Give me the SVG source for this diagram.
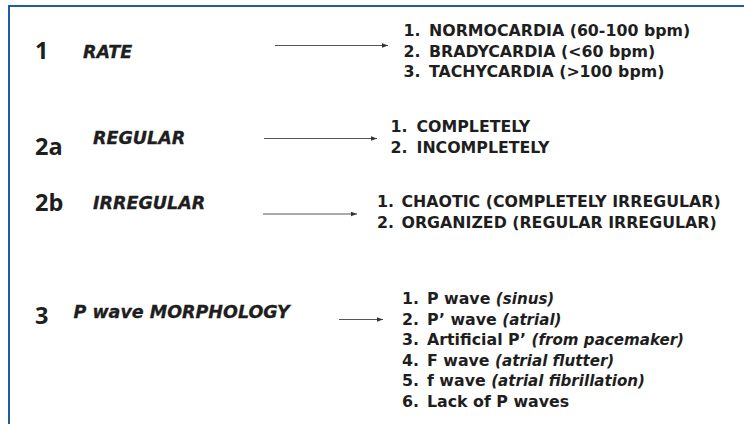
<svg xmlns="http://www.w3.org/2000/svg" width="744" height="424" viewBox="0 0 744 424">
  <defs>
    <marker id="head" viewBox="0 0 6 6" refX="6" refY="3" markerWidth="6" markerHeight="6" markerUnits="userSpaceOnUse" orient="auto">
      <path d="M0,0.8 L6,3 L0,5.2 Z" fill="#333"/>
    </marker>
    <style>
      .num { font-family: "Open Sans", "DejaVu Sans", sans-serif; font-weight: bold; font-size: 23.5px; fill: #1e1e1e; }
      .lbl { font-family: "DejaVu Sans", "Verdana", sans-serif; font-weight: bold; font-style: italic; font-size: 17.5px; fill: #1e1e1e; stroke: #1e1e1e; stroke-width: 0.3px; }
      .item { font-family: "DejaVu Sans", "Verdana", sans-serif; font-weight: bold; font-size: 15.8px; fill: #1e1e1e; }
      .note { font-style: italic; font-size: 15.1px; }
      .arrow { stroke: #555; stroke-width: 1; fill: none; marker-end: url(#head); }
    </style>
  </defs>

  <rect width="744" height="424" fill="#ffffff"/>

  <!-- frame edges: top and left rules -->
  <g id="frame">
    <line x1="8" y1="6" x2="744" y2="6" stroke="#1f5ca8" stroke-width="2"/>
    <line x1="9" y1="5" x2="9" y2="424" stroke="#1f5ca8" stroke-width="2"/>
  </g>

  <!-- category labels -->
  <g id="rate">
    <text class="num" x="35" y="59">1</text>
    <text class="lbl" x="83" y="57.5">RATE</text>
  </g>
  <g id="regular">
    <text class="num" x="35" y="155">2a</text>
    <text class="lbl" x="93" y="143.5">REGULAR</text>
  </g>
  <g id="irregular">
    <text class="num" x="35" y="210.5">2b</text>
    <text class="lbl" x="93" y="209.3">IRREGULAR</text>
  </g>
  <g id="pwave">
    <text class="num" x="35" y="323.5">3</text>
    <text class="lbl" x="73.5" y="317.5">P wave MORPHOLOGY</text>
  </g>

  <!-- connectors -->
  <g id="connectors">
    <line class="arrow" x1="275" y1="45.5" x2="388" y2="45.5"/>
    <line class="arrow" x1="264" y1="138.5" x2="377" y2="138.5"/>
    <line class="arrow" x1="263" y1="214" x2="357" y2="214"/>
    <line class="arrow" x1="339" y1="319.5" x2="383" y2="319.5"/>
  </g>

  <!-- rate options -->
  <g id="rate-list">
    <text class="item" x="403.5" y="36">1.</text>
    <text class="item" x="429" y="36">NORMOCARDIA (60-100 bpm)</text>
    <text class="item" x="403.5" y="56.5">2.</text>
    <text class="item" x="429" y="56.5">BRADYCARDIA (&lt;60 bpm)</text>
    <text class="item" x="403.5" y="77">3.</text>
    <text class="item" x="429" y="77">TACHYCARDIA (&gt;100 bpm)</text>
  </g>

  <!-- regular options -->
  <g id="regular-list">
    <text class="item" x="390.5" y="132">1.</text>
    <text class="item" x="416.5" y="132">COMPLETELY</text>
    <text class="item" x="390.5" y="152.5">2.</text>
    <text class="item" x="416.5" y="152.5">INCOMPLETELY</text>
  </g>

  <!-- irregular options -->
  <g id="irregular-list">
    <text class="item" x="377" y="207">1.</text>
    <text class="item" x="401.5" y="207">CHAOTIC (COMPLETELY IRREGULAR)</text>
    <text class="item" x="377" y="227.5">2.</text>
    <text class="item" x="401.5" y="227.5">ORGANIZED (REGULAR IRREGULAR)</text>
  </g>

  <!-- P wave options -->
  <g id="pwave-list">
    <text class="item" x="402" y="304">1.</text>
    <text class="item" x="427" y="304">P wave <tspan class="note">(sinus)</tspan></text>
    <text class="item" x="402" y="324.5">2.</text>
    <text class="item" x="427" y="324.5">P’ wave <tspan class="note">(atrial)</tspan></text>
    <text class="item" x="402" y="345">3.</text>
    <text class="item" x="427" y="345">Artificial P’ <tspan class="note">(from pacemaker)</tspan></text>
    <text class="item" x="402" y="365.5">4.</text>
    <text class="item" x="427" y="365.5">F wave <tspan class="note">(atrial flutter)</tspan></text>
    <text class="item" x="402" y="386">5.</text>
    <text class="item" x="427" y="386">f wave <tspan class="note">(atrial fibrillation)</tspan></text>
    <text class="item" x="402" y="406.5">6.</text>
    <text class="item" x="427" y="406.5">Lack of P waves</text>
  </g>
</svg>
